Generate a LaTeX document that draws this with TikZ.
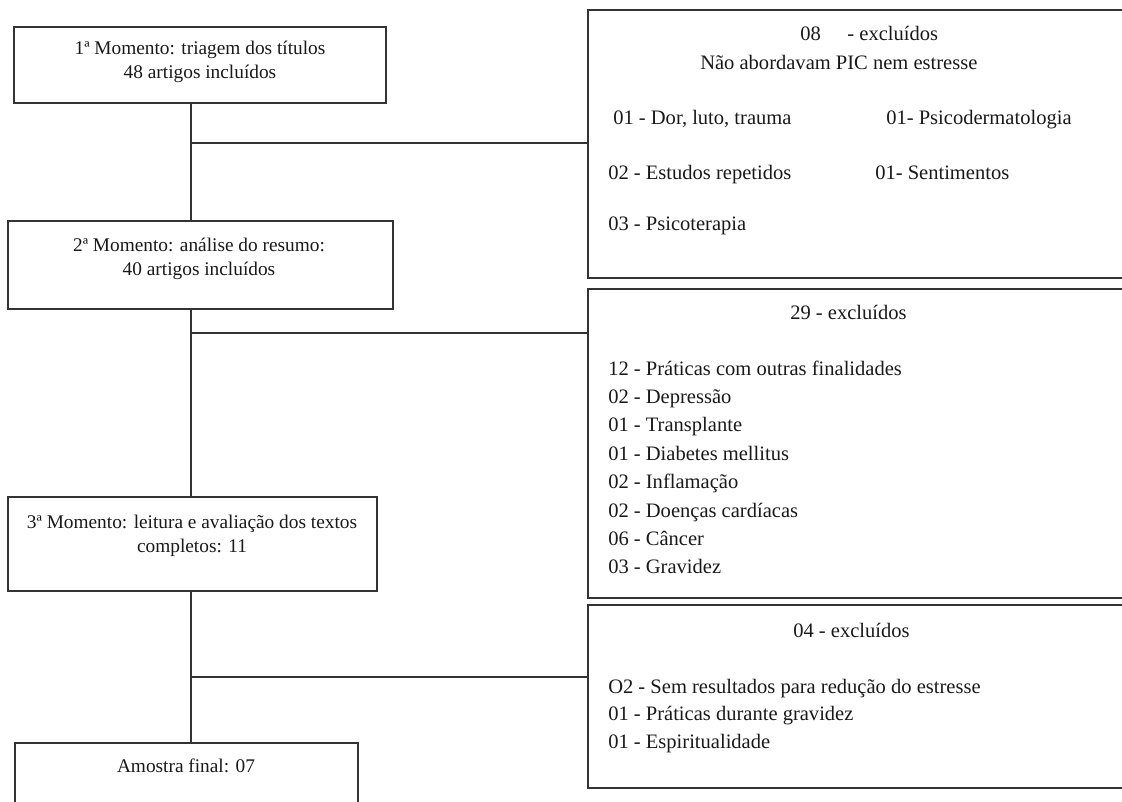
\documentclass[tikz,border=0pt]{standalone}
\usepackage{fontspec}
\setmainfont{Liberation Serif}
\usetikzlibrary{fit}
\tikzset{
  box/.style={draw=black!80, line width=1pt, inner sep=0pt, fit={#1}},
  link/.style={draw=black!80, line width=1pt},
  txt/.style={inner sep=0pt, text=black!90, font=\fontsize{14.5}{18}\selectfont},
  item/.style={txt, anchor=base west, font=\fontsize{15.4}{19}\selectfont},
}
\begin{document}
\begin{tikzpicture}[x=0.75pt,y=-0.75pt]
\useasboundingbox (0,0) rectangle (1122,801);
\clip (0,0) rectangle (1122,801);
\node[box={(14,27) (386,103)}] (m1) {};
\node[box={(8,221) (393,309)}] (m2) {};
\node[box={(8,497) (377,591)}] (m3) {};
\node[box={(15,743) (358,815)}] (m4) {};
\node[box={(588,10) (1135,278)}] (r1) {};
\node[box={(588,289) (1135,598)}] (r2) {};
\node[box={(588,605) (1135,788)}] (r3) {};
\node[txt, align=center] (t1) at (200,62) {1ª Momento: triagem dos títulos\\48 artigos incluídos};
\node[txt, align=center] (t2) at (199,259) {2ª Momento: análise do resumo:\\40 artigos incluídos};
\node[txt, align=center] (t3) at (192,536) {3ª Momento: leitura e avaliação dos textos\\completos: 11};
\node[txt] (t4) at (186,766) {Amostra final: 07};
\node[item] (h1) at (800,40) {08\hspace{20pt}- excluídos};
\node[item] (h1b) at (700,69) {Não abordavam PIC nem estresse};
\foreach \n/\x/\y/\t in {a/613/124/{01 - Dor, luto, trauma},b/886/124/{01- Psicodermatologia},c/608/179/{02 - Estudos repetidos},d/875/179/{01- Sentimentos},e/608/230/{03 - Psicoterapia}}
  \node[item] (x1\n) at (\x,\y) {\t};
\node[item] (h2) at (790,319) {29 - excluídos};
\foreach \i/\t in {0/{12 - Práticas com outras finalidades},1/{02 - Depressão},2/{01 - Transplante},3/{01 - Diabetes mellitus},4/{02 - Inflamação},5/{02 - Doenças cardíacas},6/{06 - Câncer},7/{03 - Gravidez}}
  \node[item] (x2-\i) at (608,{375+28.4*\i}) {\t};
\node[item] (h3) at (793,637) {04 - excluídos};
\foreach \i/\t in {0/{O2 - Sem resultados para redução do estresse},1/{01 - Práticas durante gravidez},2/{01 - Espiritualidade}}
  \node[item] (x3-\i) at (608,{693+27.5*\i}) {\t};
\foreach \k/\y in {1/143,2/333,3/677}
  \coordinate (j\k) at (191,\y);
\foreach \k/\a/\b in {1/m1/m2,2/m2/m3,3/m3/m4} {
  \draw[link] (\a.south -| j\k) -- (\b.north -| j\k);
  \draw[link] (j\k) -- (j\k -| r\k.west);
}
\end{tikzpicture}
\end{document}
